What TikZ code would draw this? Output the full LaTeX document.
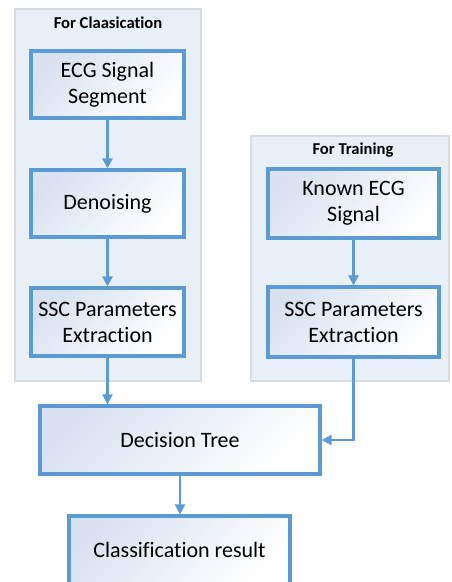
\documentclass[tikz,border=0pt]{standalone}
\usepackage{fontspec}
\setmainfont[Ligatures=NoCommon]{Carlito}
\usetikzlibrary{arrows.meta}
\definecolor{BoxBlue}{HTML}{5B9BD5}
\definecolor{PanelFill}{HTML}{E9EFF7}
\definecolor{PanelLine}{HTML}{D6DCE4}
\definecolor{BoxShade}{HTML}{D8E2F1}

\begin{document}
\begin{tikzpicture}[x=1pt, y=-1pt,
        box/.style={rectangle, draw=BoxBlue, line width=3.2pt, top color=BoxShade, middle color=BoxShade!30,
          bottom color=white, shading angle=45, align=center, inner sep=0pt, font=\fontsize{22}{26}\selectfont},
        panel/.style={rectangle, draw=PanelLine, line width=1.6pt, fill=PanelFill, inner sep=0pt},
        title/.style={font=\fontsize{16.6}{19}\selectfont\bfseries},
        arr/.style={draw=BoxBlue, line width=2.5pt, -{Triangle[length=10pt, width=10pt]}}]
        \clip (0,0) rectangle (452,582);

        % panels
        \node[panel, minimum width=186pt, minimum height=372pt] (pcls) at (108,195) {};
        \node[panel, minimum width=198pt, minimum height=245pt] (ptrn) at (350,258.5) {};
        \node[title] (tcls) at (108,23) {For Claasication};
        \node[title] (ttrn) at (353,150) {For Training};

        \node[box, minimum width=153pt, minimum height=67pt] (cls1) at (107.5,84.5) {ECG Signal\\Segment};
        \node[box, minimum width=153pt, minimum height=67pt] (cls2) at (107.5,203.5) {Denoising};
        \node[box, minimum width=153pt, minimum height=68pt] (cls3) at (107.5,322) {SSC Parameters\\Extraction};

        \node[box, minimum width=171pt, minimum height=69pt] (trn1) at (353.5,203.5) {Known ECG\\Signal};
        \node[box, minimum width=171pt, minimum height=70pt] (trn2) at (353.5,322) {SSC Parameters\\Extraction};

        \node[box, minimum width=280pt, minimum height=68pt] (dt) at (180,440) {Decision Tree};
        \node[box, minimum width=221pt, minimum height=68pt] (res) at (179.5,550) {Classification result};

        \draw[arr] (cls1) -- (cls2);
        \draw[arr] (cls2) -- (cls3);
        \draw[arr] (cls3.south) -- (cls3.south |- dt.north);
        \draw[arr] (trn1) -- (trn2);
        \draw[arr] (trn2.south) |- (dt.east);
        \draw[arr] (dt.south) -- (dt.south |- res.north);
    \end{tikzpicture}
\end{document}
